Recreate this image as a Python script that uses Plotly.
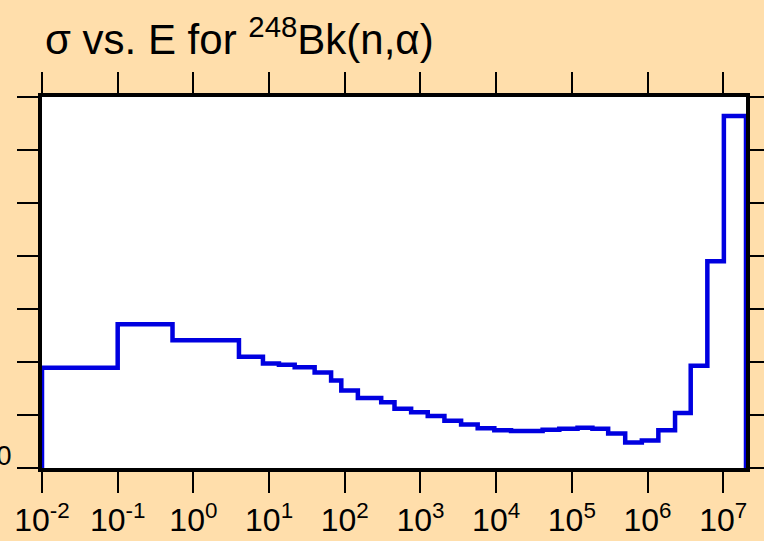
import plotly.graph_objects as go

# group boundaries (eV) and cross-section levels
energy_edges = [
    1e-2, 0.1, 0.53, 4.0, 8.3, 13.5, 21.8, 40, 66, 90, 149, 303, 454, 753,
    1248, 2073, 3444, 5703, 9460, 1.574e4, 2.48e4, 4.11e4, 6.83e4, 1.19e5,
    1.87e5, 3.02e5, 5.07e5, 8.41e5, 1.39e6, 2.31e6, 3.72e6, 6.17e6, 1.02e7, 2e7,
]
sigma = [
    1.89, 2.71, 2.41, 2.10, 1.97, 1.95, 1.90, 1.80, 1.65, 1.46, 1.32, 1.24,
    1.12, 1.05, 0.98, 0.89, 0.82, 0.75, 0.71, 0.70, 0.70, 0.72, 0.74, 0.76,
    0.74, 0.65, 0.48, 0.52, 0.71, 1.04, 1.93, 3.90, 6.64,
]
x_ticks = [1e-2, 1e-1, 1e0, 1e1, 1e2, 1e3, 1e4, 1e5, 1e6, 1e7]
x_tick_text = ["10<sup>%d</sup>" % p for p in range(-2, 8)]
y_ticks = [0, 1, 2, 3, 4, 5, 6, 7]
y_tick_text = ["0", "", "", "", "", "", "", ""]

x_line = [energy_edges[0]] + energy_edges
y_line = [0] + sigma + [0]

fig = go.Figure(
    go.Scatter(
        x=x_line,
        y=y_line,
        mode="lines",
        line=dict(color="#0000E0", width=4.5, shape="hv"),
        hoverinfo="skip",
    )
)

fig.update_layout(
    width=764,
    height=541,
    paper_bgcolor="#FFDEAB",
    plot_bgcolor="#FFFFFF",
    showlegend=False,
    margin=dict(l=42, r=18, t=97, b=73),
    font=dict(family="Liberation Sans, Arial, sans-serif", color="#000000"),
    title=dict(
        text="σ vs. E for <sup>248</sup>Bk(n,α)",
        font=dict(size=42, color="#000000"),
        xref="container",
        yref="container",
        x=45 / 764,
        xanchor="left",
        y=1 - 25 / 541,
        yanchor="top",
    ),
    xaxis=dict(
        type="log",
        range=[-2, 7.30103],
        tickvals=x_ticks,
        ticktext=x_tick_text,
        tickangle=0,
        ticks="outside",
        ticklen=21,
        tickwidth=2,
        tickcolor="#000000",
        tickfont=dict(size=32),
        showline=True,
        linewidth=4,
        linecolor="#000000",
        mirror="allticks",
        showgrid=False,
        zeroline=False,
        automargin=False,
        layer="below traces",
    ),
    yaxis=dict(
        range=[0, 7],
        tickvals=y_ticks,
        ticktext=y_tick_text,
        ticks="outside",
        ticklen=21,
        tickwidth=2,
        tickcolor="#000000",
        tickfont=dict(size=27),
        ticklabelshift=-12,
        ticklabelstandoff=0,
        showline=True,
        linewidth=4,
        linecolor="#000000",
        mirror="allticks",
        showgrid=False,
        zeroline=False,
        automargin=False,
        layer="below traces",
    ),
)

# drop the page's default body margin so the figure sits at the window corner
fig.write_html(
    "out.html",
    config={"displayModeBar": False},
    post_script="document.body.style.margin = '0';",
)
